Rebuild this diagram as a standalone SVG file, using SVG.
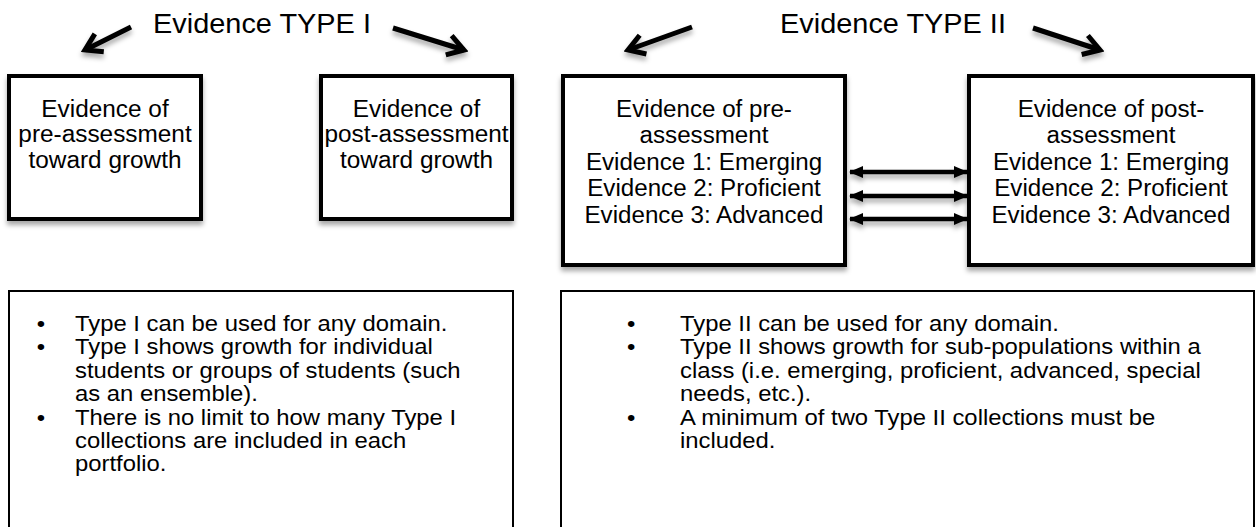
<svg xmlns="http://www.w3.org/2000/svg" width="1256" height="527" viewBox="0 0 1256 527">
<style>
text{font-family:"Liberation Sans",Arial,Helvetica,sans-serif;fill:#000}
.h{font-size:27px}
.b{font-size:23px;text-anchor:middle}
.l{font-size:22.5px}
.box{fill:#fff;stroke:#000;stroke-width:4}
.note{fill:#fff;stroke:#000;stroke-width:2}
.ha{fill:none;stroke:#000;stroke-width:5;stroke-linecap:butt}
.da{fill:none;stroke:#000;stroke-width:4.5}
</style>
<defs>
<filter id="sh" x="-20%" y="-20%" width="140%" height="150%">
<feDropShadow dx="0" dy="4" stdDeviation="2.5" flood-color="#000" flood-opacity="0.35"/>
</filter>
<marker id="vee" viewBox="-24 -14 28 28" markerWidth="28" markerHeight="28" refX="0" refY="0" orient="auto" markerUnits="userSpaceOnUse">
<path d="M-16 -10 L0 0 L-16 10" fill="none" stroke="#000" stroke-width="5" stroke-linejoin="miter"/>
</marker>
<marker id="tri" viewBox="0 0 14 14" markerWidth="14" markerHeight="14" refX="13" refY="7" orient="auto-start-reverse" markerUnits="userSpaceOnUse">
<path d="M0 1 L14 7 L0 13 Z" fill="#000"/>
</marker>
</defs>
<rect width="1256" height="527" fill="#fff"/>

<g id="heading-type1">
<text class="h" transform="translate(262 0) scale(1.07 1)" x="0" y="33" text-anchor="middle">Evidence TYPE I</text>
</g>
<g id="heading-type2">
<text class="h" transform="translate(893 0) scale(1.07 1)" x="0" y="33" text-anchor="middle">Evidence TYPE II</text>
</g>

<g id="connectors">
<g filter="url(#sh)">
<line class="ha" x1="131" y1="27" x2="85" y2="50" marker-end="url(#vee)"/>
<line class="ha" x1="393" y1="28" x2="464" y2="50" marker-end="url(#vee)"/>
<line class="ha" x1="692" y1="27" x2="628" y2="50" marker-end="url(#vee)"/>
<line class="ha" x1="1033" y1="28" x2="1100" y2="50" marker-end="url(#vee)"/>
<line class="da" x1="850" y1="172" x2="967" y2="172" marker-start="url(#tri)" marker-end="url(#tri)"/>
<line class="da" x1="850" y1="196" x2="967" y2="196" marker-start="url(#tri)" marker-end="url(#tri)"/>
<line class="da" x1="850" y1="219" x2="967" y2="219" marker-start="url(#tri)" marker-end="url(#tri)"/>
</g>
</g>

<g id="type1-pre">
<rect class="box" x="9" y="76" width="192" height="143" filter="url(#sh)"/>
<g transform="translate(105 0) scale(1.06 1)">
<text class="b" x="0" y="117">Evidence of</text>
<text class="b" x="0" y="142.5">pre-assessment</text>
<text class="b" x="0" y="168">toward growth</text>
</g>
</g>

<g id="type1-post">
<rect class="box" x="321" y="76" width="191" height="143" filter="url(#sh)"/>
<g transform="translate(416.5 0) scale(1.06 1)">
<text class="b" x="0" y="117">Evidence of</text>
<text class="b" x="0" y="142.5">post-assessment</text>
<text class="b" x="0" y="168">toward growth</text>
</g>
</g>

<g id="type2-pre">
<rect class="box" x="563" y="76" width="282" height="189" filter="url(#sh)"/>
<g transform="translate(704 0) scale(1.05 1)">
<text class="b" x="0" y="117">Evidence of pre-</text>
<text class="b" x="0" y="143">assessment</text>
<text class="b" x="0" y="170">Evidence 1: Emerging</text>
<text class="b" x="0" y="196.5">Evidence 2: Proficient</text>
<text class="b" x="0" y="223">Evidence 3: Advanced</text>
</g>
</g>

<g id="type2-post">
<rect class="box" x="969" y="76" width="284" height="189" filter="url(#sh)"/>
<g transform="translate(1111 0) scale(1.05 1)">
<text class="b" x="0" y="117">Evidence of post-</text>
<text class="b" x="0" y="143">assessment</text>
<text class="b" x="0" y="170">Evidence 1: Emerging</text>
<text class="b" x="0" y="196.5">Evidence 2: Proficient</text>
<text class="b" x="0" y="223">Evidence 3: Advanced</text>
</g>
</g>

<g id="type1-notes">
<rect class="note" x="9" y="291" width="504" height="250"/>
<g transform="translate(75 0) scale(1.06 1)">
<text class="l" x="-36" y="331">•</text>
<text class="l" x="0" y="331">Type I can be used for any domain.</text>
<text class="l" x="-36" y="354.5">•</text>
<text class="l" x="0" y="354.5">Type I shows growth for individual</text>
<text class="l" x="0" y="378">students or groups of students (such</text>
<text class="l" x="0" y="401">as an ensemble).</text>
<text class="l" x="-36" y="425">•</text>
<text class="l" x="0" y="425">There is no limit to how many Type I</text>
<text class="l" x="0" y="448">collections are included in each</text>
<text class="l" x="0" y="471">portfolio.</text>
</g>
</g>

<g id="type2-notes">
<rect class="note" x="561" y="291" width="693" height="250"/>
<g transform="translate(680 0) scale(1.06 1)">
<text class="l" x="-50" y="331">•</text>
<text class="l" x="0" y="331">Type II can be used for any domain.</text>
<text class="l" x="-50" y="354.5">•</text>
<text class="l" x="0" y="354.5">Type II shows growth for sub-populations within a</text>
<text class="l" x="0" y="378">class (i.e. emerging, proficient, advanced, special</text>
<text class="l" x="0" y="401">needs, etc.).</text>
<text class="l" x="-50" y="425">•</text>
<text class="l" x="0" y="425">A minimum of two Type II collections must be</text>
<text class="l" x="0" y="448">included.</text>
</g>
</g>
</svg>
